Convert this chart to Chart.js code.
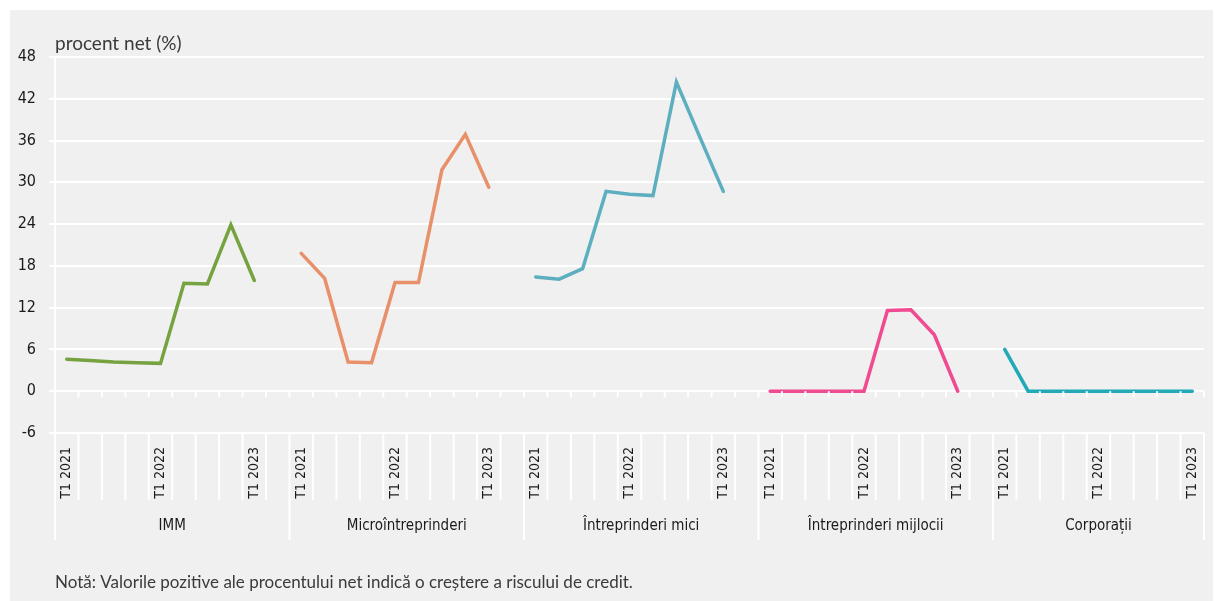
<!DOCTYPE html>
<html>
<head>
<meta charset="utf-8">
<script src="https://cdn.jsdelivr.net/npm/chart.js@4.4.1/dist/chart.umd.min.js"></script>
<style>
  html, body { margin: 0; padding: 0; background: #ffffff; }
  #wrap { width: 1214px; height: 601px; position: relative; }
</style>
</head>
<body>
<div id="wrap"><canvas id="c" width="1214" height="601"></canvas></div>
<script>
// ---- Data ----
const groups = ["IMM", "Microîntreprinderi", "Întreprinderi mici", "Întreprinderi mijlocii", "Corporații"];
const quarterLabels = ["T1 2021", "", "", "", "T1 2022", "", "", "", "T1 2023"];
const yTicks = [-6, 0, 6, 12, 18, 24, 30, 36, 42, 48];

const imm      = [4.6, 4.4, 4.2, 4.1, 4.0, 15.5, 15.4, 23.9, 15.9];
const micro    = [19.8, 16.2, 4.2, 4.1, 15.6, 15.6, 31.8, 36.9, 29.3];
const mici     = [16.4, 16.1, 17.6, 28.7, 28.3, 28.1, 44.4, 36.5, 28.7];
const mijlocii = [0, 0, 0, 0, 0, 11.6, 11.7, 8.1, 0];
const corp     = [6.0, 0, 0, 0, 0, 0, 0, 0, 0];

const seriesValues = [imm, micro, mici, mijlocii, corp];
const colors = ["#76a240", "#e8906a", "#5dafbf", "#f04a90", "#22a9b8"];

const yTitle = "procent net (%)";
const note = "Notă: Valorile pozitive ale procentului net indică o creștere a riscului de credit.";

// ---- Build category axis: 9 quarters per group, 1 empty slot between groups ----
const labels = [];
groups.forEach((g, gi) => {
  quarterLabels.forEach(q => labels.push(q));
  if (gi < groups.length - 1) labels.push("");
});
const slotsPerGroup = quarterLabels.length + 1;

const datasets = seriesValues.map((vals, gi) => {
  const data = labels.map(() => null);
  vals.forEach((v, k) => { data[gi * slotsPerGroup + k] = v; });
  return {
    label: groups[gi],
    data,
    borderColor: colors[gi],
    backgroundColor: colors[gi],
    borderWidth: 3.5,
    pointRadius: 0,
    tension: 0,
    spanGaps: false,
    borderCapStyle: 'round',
    borderJoinStyle: 'miter'
  };
});

const condensed = "'Liberation Sans Narrow', 'DejaVu Sans Condensed', 'Roboto Condensed', 'Arial Narrow', sans-serif";
const regular = "Lato, 'Open Sans', sans-serif";

const bgPlugin = {
  id: 'bg',
  beforeDraw(chart) {
    const ctx = chart.ctx;
    ctx.save();
    ctx.fillStyle = '#ffffff';
    ctx.fillRect(0, 0, chart.width, chart.height);
    ctx.fillStyle = '#f0f0f0';
    ctx.fillRect(10, 10, chart.width - 11, chart.height - 10);
    ctx.restore();
  }
};

const decoPlugin = {
  id: 'deco',
  afterDraw(chart) {
    const ctx = chart.ctx;
    const x = chart.scales.x;
    const y = chart.scales.y;
    const area = chart.chartArea;
    const n = labels.length;
    const bounds = [];
    for (let i = 0; i <= n; i++) {
      let bx;
      if (i === 0) bx = area.left;
      else if (i === n) bx = area.right;
      else bx = (x.getPixelForTick(i - 1) + x.getPixelForTick(i)) / 2;
      bounds.push(bx);
    }
    const y0 = y.getPixelForValue(0);
    const yb = area.bottom;
    ctx.save();
    ctx.strokeStyle = '#ffffff';
    ctx.lineWidth = 2;
    bounds.forEach((bx, i) => {
      const isGroup = (i % slotsPerGroup === 0) || i === n;
      ctx.beginPath();
      ctx.moveTo(bx, y0);
      ctx.lineTo(bx, y0 + 6);
      ctx.moveTo(bx, yb);
      ctx.lineTo(bx, isGroup ? 540 : 500);
      ctx.stroke();
    });
    // group labels
    ctx.fillStyle = '#1a1a1a';
    ctx.font = "15px " + condensed;
    ctx.textAlign = 'center';
    ctx.textBaseline = 'middle';
    groups.forEach((g, gi) => {
      const a = bounds[gi * slotsPerGroup];
      const b = bounds[Math.min((gi + 1) * slotsPerGroup, n)];
      ctx.fillText(g, (a + b) / 2, 526);
    });
    // y title
    ctx.fillStyle = '#3a3a3a';
    ctx.font = "19px " + regular;
    ctx.textAlign = 'left';
    ctx.textBaseline = 'middle';
    ctx.fillText(yTitle, area.left, 44);
    // note
    ctx.font = "17px " + regular;
    ctx.fillText(note, area.left, 583);
    ctx.restore();
  }
};

new Chart(document.getElementById('c'), {
  type: 'line',
  data: { labels, datasets },
  options: {
    responsive: false,
    animation: false,
    devicePixelRatio: 1,
    layout: { padding: { left: 10, right: 10, top: 57, bottom: 0 } },
    plugins: {
      legend: { display: false },
      tooltip: { enabled: false },
      title: { display: false }
    },
    scales: {
      x: {
        type: 'category',
        offset: true,
        grid: { display: true, drawOnChartArea: false, drawTicks: false, offset: true },
        border: { display: false },
        ticks: {
          autoSkip: false,
          maxRotation: 90,
          minRotation: 90,
          padding: 14,
          color: '#1a1a1a',
          font: { family: condensed, size: 14 }
        },
        afterFit(s) { s.height = 168; s.paddingLeft = 0; s.paddingRight = 0; }
      },
      y: {
        min: -6,
        max: 48,
        afterBuildTicks(s) { s.ticks = yTicks.map(v => ({ value: v })); },
        grid: { color: '#ffffff', lineWidth: 2, tickLength: 6, drawTicks: true },
        border: { display: true, color: '#ffffff', width: 2 },
        ticks: {
          padding: 13,
          color: '#1a1a1a',
          font: { family: condensed, size: 16 }
        },
        afterFit(s) { s.width = 45; }
      }
    }
  },
  plugins: [bgPlugin, decoPlugin]
});
</script>
</body>
</html>
